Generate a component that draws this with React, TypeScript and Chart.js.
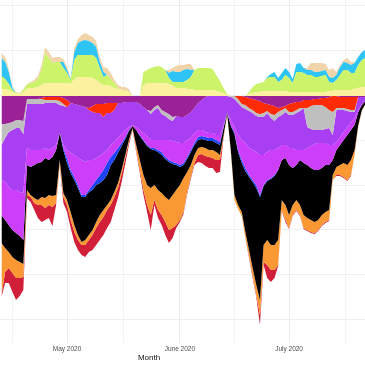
import React, { useEffect, useRef } from "react";
import { Chart, registerables } from "chart.js";

Chart.register(...registerables);

// Day offsets from 2020-04-13 (one value per day)
const dayIndex: number[] = Array.from({ length: 101 }, (_, i) => i);

const monthTickDays = [18, 49, 79];
const monthTickLabels = ["May 2020", "June 2020", "July 2020"];
const minorTickDays = [3, 33.5, 64, 94.5];
const gridValues = [-223.5, -178.7, -133.9, -89.1, -44.3, 0.5, 45.3, 90.1];
const xAxisTitle = "Month";

// ---- positive stack (cumulative upper edges) ----
const khakiTop = [
  7, 7, 6, 4, 2.5, 2, 4, 7, 8, 8,
  9, 11, 13, 13, 13, 13, 13, 13, 13, 12,
  17, 19, 19, 19, 19, 18, 16, 13, 11, 11,
  10, 8, 7, 6, 5, 4, 0, 0, 0, 11,
  13, 13, 13, 13, 13, 13, 12, 10, 8, 8,
  8, 7, 7, 6, 6, 6, 6, 6, 6, 5,
  4, 3, 1, 0, 0, 0, 0, 0, 2, 3,
  4, 4, 5, 5, 5, 5, 5, 5, 5, 4,
  4, 4, 4, 4, 4, 4, 4, 4, 4, 4,
  5, 5, 6, 6, 6, 6, 6, 7, 8, 9, 9,
];
const oliveTop = [
  20, 17, 12, 6, 3, 2.5, 6, 11, 13, 14,
  17, 26, 43, 38, 33, 34, 34, 28, 23, 16,
  36, 41, 41, 41, 41, 41, 38, 28, 19, 21,
  17, 13, 8, 6, 6, 4, 0, 0, 0, 24,
  26, 28, 29, 30, 29, 26, 18, 14, 14, 14,
  14, 16, 19, 26, 28, 28, 28, 28, 27, 21,
  15, 8, 2, 0, 0, 0, 0, 0, 4, 9,
  12, 13, 14, 18, 19, 19, 14, 16, 21, 18,
  13, 24, 24, 23, 21, 21, 19, 19, 20, 21,
  14, 13, 16, 21, 26, 26, 23, 23, 31, 36, 38,
];
const skyTop = [
  38, 34, 24, 8, 3, 2.5, 6, 11, 13, 14,
  17, 26, 43, 38, 33, 34, 34, 34, 26, 17,
  44, 53, 55, 56, 55, 53, 49, 34, 24, 21,
  17, 13, 8, 6, 6, 4, 0, 0, 0, 24,
  26, 28, 29, 30, 29, 26, 23, 25, 24, 24,
  26, 27, 26, 26, 28, 28, 28, 28, 27, 21,
  15, 8, 2, 0, 0, 0, 0, 0, 4, 9,
  12, 13, 14, 19, 22, 24, 18, 23, 28, 24,
  17, 32, 33, 28, 26, 26, 24, 24, 25, 26,
  19, 18, 21, 29, 34, 33, 31, 33, 39, 44, 46,
];
const wheatTop = [
  43, 39, 27, 9, 4, 3, 7, 12, 14, 16,
  20, 31, 49, 44, 38, 39, 39, 37, 29, 18,
  48, 57, 61, 63, 61, 59, 55, 39, 29, 28,
  23, 16, 11, 9, 9, 7, 0, 0, 0, 24,
  26, 28, 29, 30, 29, 26, 26, 28, 30, 31,
  31, 32, 32, 26, 28, 28, 28, 28, 27, 21,
  15, 8, 2, 0, 0, 0, 0, 0, 4, 9,
  12, 13, 14, 19, 22, 24, 18, 23, 28, 24,
  17, 32, 33, 28, 28, 33, 33, 33, 33, 32,
  26, 28, 24, 31, 36, 38, 34, 34, 39, 44, 46,
];

// ---- negative stack (cumulative lower edges) ----
const darkMagentaBottom = [
  -28, -28, -27, -26, -24, -24, -25, -3, -3, -3,
  -3, -2, -1, -1, -1, -1, -1, -2, -4, -7,
  -8, -9, -10, -11, -12, -10, -8, -8, -8, -7,
  -7, -7, -7, -7, -6, -6, -6, -6, -8, -11,
  -14, -15, -11, -9, -14, -16, -18, -21, -20, -21,
  -21, -19, -16, -12, -7, -4, -1, 0, 0, 0,
  0, 0, 0, 0, 0, 0, 0, -1, -2, -3,
  -4, -5, -7, -8, -9, -10, -12, -11, -10, -8,
  -7, -6, -6, -4, -4, -4, -3, -3, -2, -2,
  -1, 0, 0, -1, -1, -1, -1, -1, -1, -1, -1,
];
const redBottom = [
  -28, -28, -27, -26, -24, -24, -25, -3, -3, -3,
  -3, -3, -4, -4, -4, -4, -5, -8, -11, -7,
  -8, -9, -10, -11, -14, -16, -17, -17, -21, -17,
  -17, -14, -7, -7, -6, -6, -6, -6, -8, -11,
  -14, -15, -11, -9, -14, -16, -18, -21, -20, -21,
  -21, -19, -16, -12, -7, -4, -1, 0, 0, 0,
  0, 0, 0, 0, 0, -3, -8, -9, -12, -14,
  -17, -18, -17, -15, -18, -19, -16, -14, -12, -16,
  -16, -14, -12, -12, -12, -10, -9, -9, -9, -11,
  -14, -16, -12, -12, -12, -13, -14, -14, -1, -1, -1,
];
const greyBottom = [
  -49, -42, -36, -34, -32, -32, -38, -8, -8, -8,
  -8, -8, -7, -7, -7, -7, -9, -10, -11, -7,
  -8, -9, -10, -11, -14, -16, -17, -17, -21, -17,
  -17, -14, -7, -7, -6, -6, -6, -6, -8, -11,
  -14, -18, -14, -12, -18, -20, -23, -25, -20, -21,
  -21, -19, -16, -12, -7, -4, -1, 0, 0, 0,
  0, 0, 0, -1, -3, -7, -11, -13, -15, -17,
  -20, -21, -21, -17, -22, -25, -21, -19, -16, -19,
  -19, -17, -15, -12, -31, -33, -34, -34, -34, -33,
  -32, -39, -14, -14, -14, -15, -16, -16, -1, -1, -1,
];
const purpleBottom = [
  -84, -86, -91, -94, -94, -96, -97, -52, -54, -54,
  -54, -54, -52, -54, -52, -49, -37, -49, -54, -57,
  -59, -62, -64, -66, -64, -64, -62, -60, -57, -54,
  -49, -46, -42, -38, -34, -31, -29, -31, -34, -37,
  -40, -44, -44, -44, -44, -44, -44, -45, -46, -47,
  -47, -44, -42, -37, -34, -34, -36, -37, -37, -39,
  -39, -29, -17, -24, -31, -39, -44, -47, -52, -54,
  -56, -59, -59, -56, -54, -54, -52, -49, -49, -52,
  -52, -54, -54, -54, -52, -50, -48, -47, -47, -47,
  -49, -49, -46, -41, -36, -31, -26, -22, -14, -8, -4,
];
const orchidBottom = [
  -119, -124, -129, -134, -137, -140, -144, -69, -71, -69,
  -67, -66, -62, -64, -61, -54, -37, -52, -62, -74,
  -81, -89, -99, -99, -94, -89, -84, -79, -74, -67,
  -61, -57, -52, -47, -41, -34, -30, -34, -39, -44,
  -49, -52, -52, -54, -56, -61, -64, -66, -67, -69,
  -67, -61, -54, -47, -41, -40, -41, -42, -42, -44,
  -46, -31, -17, -29, -36, -54, -64, -72, -79, -84,
  -89, -99, -89, -84, -82, -79, -74, -64, -62, -69,
  -72, -69, -64, -67, -69, -72, -74, -74, -72, -69,
  -69, -64, -54, -49, -44, -39, -34, -29, -16, -9, -5,
];
const blueBottom = [
  -119, -124, -129, -134, -137, -140, -144, -69, -71, -69,
  -67, -66, -62, -64, -61, -54, -37, -54, -67, -77,
  -84, -92, -101, -101, -96, -94, -89, -87, -84, -79,
  -69, -64, -57, -50, -43, -35, -30, -34, -40, -45,
  -50, -53, -54, -56, -59, -63, -66, -68, -69, -71,
  -69, -63, -56, -49, -44, -43, -44, -45, -45, -47,
  -49, -32, -17, -30, -38, -56, -67, -75, -81, -86,
  -92, -101, -90, -85, -83, -80, -74, -64, -62, -69,
  -72, -69, -64, -67, -69, -72, -74, -74, -72, -69,
  -69, -64, -54, -49, -44, -39, -34, -29, -16, -9, -5,
];
const blackBottom = [
  -147, -152, -156, -161, -164, -166, -168, -94, -99, -102,
  -104, -101, -102, -99, -100, -99, -64, -97, -104, -116,
  -129, -139, -146, -144, -139, -134, -126, -119, -114, -109,
  -104, -96, -87, -74, -59, -44, -32, -49, -64, -79,
  -89, -92, -89, -94, -97, -101, -104, -99, -94, -89,
  -82, -76, -69, -59, -52, -51, -52, -54, -54, -56,
  -59, -39, -18, -54, -99, -109, -116, -136, -154, -172,
  -189, -204, -149, -144, -149, -149, -144, -104, -109, -119,
  -109, -104, -109, -119, -122, -124, -126, -124, -119, -116,
  -114, -79, -71, -69, -67, -69, -64, -54, -29, -14, -8,
];
const orangeBottom = [
  -199, -176, -172, -177, -182, -182, -181, -99, -101, -107,
  -109, -109, -112, -109, -111, -107, -69, -101, -109, -124,
  -136, -144, -149, -149, -144, -139, -132, -126, -121, -114,
  -109, -101, -92, -78, -62, -46, -33, -54, -74, -94,
  -109, -119, -104, -114, -119, -126, -134, -132, -129, -124,
  -116, -96, -81, -67, -59, -58, -60, -61, -62, -64,
  -64, -41, -19, -57, -104, -113, -120, -141, -160, -180,
  -199, -219, -166, -169, -174, -174, -169, -114, -124, -132,
  -119, -114, -119, -132, -134, -136, -137, -134, -129, -126,
  -124, -84, -79, -79, -81, -84, -79, -59, -31, -15, -8,
];
const crimsonBottom = [
  -201, -187, -187, -196, -204, -200, -194, -102, -106, -114,
  -122, -126, -124, -122, -130, -109, -70, -107, -116, -132,
  -146, -154, -159, -161, -156, -154, -149, -144, -139, -132,
  -126, -114, -102, -86, -68, -49, -34, -56, -77, -99,
  -116, -134, -109, -122, -129, -139, -147, -142, -132, -126,
  -118, -98, -83, -69, -66, -67, -70, -72, -72, -77,
  -76, -42, -19, -57, -104, -113, -120, -142, -162, -182,
  -201, -229, -169, -182, -186, -182, -170, -115, -126, -133,
  -120, -115, -120, -133, -135, -137, -138, -135, -130, -127,
  -125, -84, -80, -80, -82, -85, -80, -59, -31, -15, -8,
];

const positiveEdges = [khakiTop, oliveTop, skyTop, wheatTop];
const positiveColors = ["#FBF19E", "#CDF36B", "#2EC4F4", "#F1D4AA"];
const negativeEdges = [
  darkMagentaBottom, redBottom, greyBottom, purpleBottom, orchidBottom,
  blueBottom, blackBottom, orangeBottom, crimsonBottom,
];
const negativeColors = [
  "#9A2196", "#FF2B06", "#BFBFBF", "#A93FF3", "#CC3EFA",
  "#1D44F6", "#000000", "#FA9833", "#D11F3A",
];

const FONT = '"Liberation Sans", Arial, Helvetica, sans-serif';

function makeSet(edge: number[], color: string, first: boolean) {
  return {
    data: edge.map((v, i) => ({ x: dayIndex[i], y: v })),
    backgroundColor: color,
    borderColor: "transparent",
    borderWidth: 0,
    pointRadius: 0,
    pointHoverRadius: 0,
    tension: 0,
    fill: first ? "origin" : "-1",
  };
}

export default function App() {
  const ref = useRef<HTMLCanvasElement | null>(null);

  useEffect(() => {
    if (!ref.current) return;
    const datasets = [
      ...positiveEdges.map((e, k) => makeSet(e, positiveColors[k], k === 0)),
      ...negativeEdges.map((e, k) => makeSet(e, negativeColors[k], k === 0)),
    ];
    const titlePlugin = {
      id: "xTitle",
      afterDraw(chart: any) {
        const ctx = chart.ctx;
        ctx.save();
        ctx.font = `8px ${FONT}`;
        ctx.fillStyle = "#111111";
        ctx.textAlign = "center";
        ctx.textBaseline = "middle";
        ctx.fillText(xAxisTitle, 149, 358);
        ctx.restore();
      },
    };
    const chart = new Chart(ref.current, {
      type: "line",
      data: { datasets } as any,
      options: {
        animation: false,
        responsive: false,
        events: [],
        layout: { padding: 0 },
        plugins: { legend: { display: false }, tooltip: { enabled: false } },
        scales: {
          x: {
            type: "linear",
            min: -0.41,
            max: 99.86,
            border: { display: false },
            grid: {
              color: "#EBEBEB",
              drawTicks: false,
              lineWidth: (c: any) =>
                c.tick && monthTickDays.includes(c.tick.value) ? 1 : 0.6,
            },
            afterBuildTicks: (scale: any) => {
              scale.ticks = [...minorTickDays, ...monthTickDays]
                .sort((a, b) => a - b)
                .map((v) => ({ value: v }));
            },
            afterFit: (scale: any) => {
              scale.height = 22;
            },
            ticks: {
              autoSkip: false,
              maxRotation: 0,
              padding: 2,
              color: "#4D4D4D",
              font: { size: 6.5, family: FONT },
              callback: (v: any) => {
                const k = monthTickDays.indexOf(Number(v));
                return k >= 0 ? monthTickLabels[k] : "";
              },
            },
          },
          y: {
            type: "linear",
            min: -247,
            max: 96,
            border: { display: false },
            grid: { color: "#EBEBEB", drawTicks: false, lineWidth: 0.8 },
            afterBuildTicks: (scale: any) => {
              scale.ticks = gridValues.map((v) => ({ value: v }));
            },
            afterFit: (scale: any) => {
              scale.width = 0;
            },
            ticks: { display: false },
          },
        },
      } as any,
      plugins: [titlePlugin],
    });
    return () => chart.destroy();
  }, []);

  return (
    <div style={{ position: "fixed", left: 0, top: 0, width: 365, height: 365, background: "#ffffff" }}>
      <canvas ref={ref} width={365} height={365} style={{ display: "block" }} />
    </div>
  );
}
